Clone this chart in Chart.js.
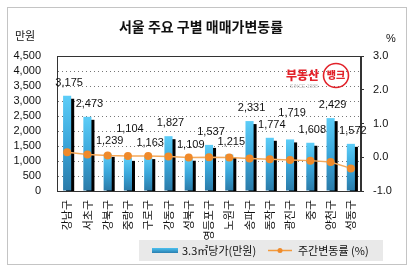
<!DOCTYPE html>
<html>
<head>
<meta charset="utf-8">
<script src="https://cdn.jsdelivr.net/npm/chart.js@4/dist/chart.umd.min.js"></script>
<style>
  html, body { margin: 0; padding: 0; background: #fff; }
  #wrap { width: 416px; height: 274px; }
</style>
</head>
<body>
<div id="wrap"><canvas id="chart" width="416" height="274"></canvas></div>
<script>
// 서울 주요 구별 매매가변동률 — bars (3.3㎡당가) + weekly change line

const districts = ['강남구', '서초구', '강북구', '중랑구', '구로구', '강동구', '성북구', '영등포구',
                   '노원구', '송파구', '동작구', '광진구', '중구', '양천구', '성동구'];
const prices = [3175, 2473, 1239, 1104, 1163, 1827, 1109, 1537, 1215, 2331, 1774, 1719, 1608, 2429, 1572];
const weeklyChange = [0.15, 0.08, 0.05, 0.04, 0.04, 0.02, -0.01, 0.0, -0.01, -0.04, -0.06, -0.08, -0.10, -0.14, -0.33];

const priceTicks = { min: 0, max: 4500, step: 500 };
const changeTicks = { min: -1, max: 3, step: 1 };

const TITLE = '서울 주요 구별 매매가변동률';
const KR = "'Noto Sans CJK KR', sans-serif";
const NUM = "'Liberation Sans', 'Noto Sans CJK KR', sans-serif";

Chart.defaults.font.family = NUM;
Chart.defaults.font.size = 11;
Chart.defaults.color = '#111';

function barGradient(c) {
  const chart = c.chart;
  if (!chart.chartArea || c.type !== 'data') return '#3aa8dc';
  const y = chart.scales.y;
  const top = y.getPixelForValue(prices[c.dataIndex]);
  const bottom = y.getPixelForValue(0);
  const g = chart.ctx.createLinearGradient(0, top, 0, bottom);
  g.addColorStop(0, '#5ccdf8');
  g.addColorStop(0.5, '#3aa6da');
  g.addColorStop(1, '#2a7aa8');
  return g;
}

// black drop shadow behind the bars
const barShadow = {
  id: 'barShadow',
  beforeDatasetDraw(chart, args) {
    if (args.index !== 0) return;
    const ctx = chart.ctx;
    ctx.save();
    ctx.shadowColor = '#000';
    ctx.shadowOffsetX = 3;
    ctx.shadowOffsetY = 3;
    ctx.shadowBlur = 0;
  },
  afterDatasetDraw(chart, args) {
    if (args.index !== 0) return;
    chart.ctx.restore();
  },
};

// frame, title, units, value labels, logo and legend
const decorations = {
  id: 'decorations',
  beforeDraw(chart) {
    const ctx = chart.ctx;
    ctx.save();
    ctx.fillStyle = '#fff';
    ctx.fillRect(0, 0, chart.width, chart.height);
    ctx.strokeStyle = '#c4c4c4';
    ctx.lineWidth = 1;
    ctx.strokeRect(7.5, 7.5, 399, 257);
    ctx.restore();
  },
  afterDatasetsDraw(chart) {
    const ctx = chart.ctx;
    const a = chart.chartArea;
    ctx.save();
    // plot border
    ctx.strokeStyle = '#333';
    ctx.lineWidth = 1;
    ctx.strokeRect(Math.round(a.left) + 0.5, Math.round(a.top) + 0.5,
                   Math.round(a.right - a.left) - 1, Math.round(a.bottom - a.top));

    // value labels above bars, nudged up when they collide with the previous one
    const meta = chart.getDatasetMeta(0);
    ctx.font = '11px ' + NUM;
    ctx.fillStyle = '#111';
    ctx.textAlign = 'center';
    ctx.textBaseline = 'middle';
    let prevY = null;
    meta.data.forEach((bar, i) => {
      let y = bar.y - 13;
      if (prevY !== null && Math.abs(y - prevY) < 8) y = prevY - 12;
      ctx.fillText(prices[i].toLocaleString('en-US'), bar.x + 2, y);
      prevY = y;
    });
    ctx.restore();
  },
  afterDraw(chart) {
    const ctx = chart.ctx;
    ctx.save();
    ctx.fillStyle = '#111';
    ctx.textBaseline = 'middle';

    ctx.font = 'bold 14px ' + KR;
    ctx.textAlign = 'center';
    ctx.fillText(TITLE, 201, 27);

    ctx.font = '11px ' + KR;
    ctx.textAlign = 'left';
    ctx.fillText('만원', 15, 36);
    ctx.font = '11px ' + NUM;
    ctx.fillText('%', 386, 39);

    // 부동산뱅크 logo
    ctx.fillStyle = '#e2222a';
    ctx.font = '900 12px ' + KR;
    ctx.fillText('부동산', 286, 75);
    ctx.strokeStyle = '#e2222a';
    ctx.lineWidth = 1.6;
    ctx.beginPath();
    ctx.ellipse(336, 75.5, 12.5, 12, 0, 0, Math.PI * 2);
    ctx.stroke();
    ctx.font = '900 10px ' + KR;
    ctx.textAlign = 'center';
    ctx.fillText('뱅크', 336, 75);
    ctx.fillStyle = '#c0c0c0';
    ctx.font = '5px ' + NUM;
    ctx.fillText('SINCE 1988', 304, 87);

    // legend
    ctx.fillStyle = '#e9e9e9';
    ctx.fillRect(139, 240, 244, 21);
    const sw = ctx.createLinearGradient(0, 248, 0, 253);
    sw.addColorStop(0, '#4cc0ef');
    sw.addColorStop(1, '#2a7fb0');
    ctx.fillStyle = sw;
    ctx.fillRect(152, 248, 26, 5);
    ctx.fillStyle = '#111';
    ctx.textAlign = 'left';
    ctx.font = '11px ' + KR;
    ctx.fillText(chart.data.datasets[0].label, 182, 250.5);
    ctx.strokeStyle = '#f39a3c';
    ctx.lineWidth = 1.5;
    ctx.beginPath();
    ctx.moveTo(268, 250.5);
    ctx.lineTo(292, 250.5);
    ctx.stroke();
    ctx.fillStyle = '#f08a2a';
    ctx.beginPath();
    ctx.arc(280, 250.5, 2.5, 0, Math.PI * 2);
    ctx.fill();
    ctx.fillStyle = '#111';
    ctx.fillText(chart.data.datasets[1].label, 298, 250.5);
    ctx.restore();
  },
};

new Chart(document.getElementById('chart'), {
  data: {
    labels: districts,
    datasets: [
      {
        type: 'bar',
        label: '3.3㎡당가(만원)',
        data: prices,
        yAxisID: 'y',
        backgroundColor: barGradient,
        borderWidth: 0,
        barPercentage: 0.4,
        categoryPercentage: 1.0,
        order: 1,
      },
      {
        type: 'line',
        label: '주간변동률 (%)',
        data: weeklyChange,
        yAxisID: 'y1',
        borderColor: '#f5a95a',
        borderWidth: 1.5,
        pointRadius: 4,
        pointBackgroundColor: '#f08a2a',
        pointBorderColor: '#f08a2a',
        pointBorderWidth: 0,
        tension: 0,
        order: 0,
      },
    ],
  },
  options: {
    responsive: false,
    animation: false,
    layout: { padding: { top: 56, left: 0, right: 0, bottom: 0 } },
    plugins: {
      legend: { display: false },
      title: { display: false },
      tooltip: { enabled: false },
    },
    scales: {
      x: {
        afterFit: (s) => { s.height = 83; },
        grid: { display: false, drawTicks: false },
        border: { display: true, color: '#333' },
        ticks: {
          minRotation: 90,
          maxRotation: 90,
          padding: 9,
          autoSkip: false,
          font: { family: KR, size: 11 },
          color: '#111',
        },
      },
      y: {
        position: 'left',
        min: priceTicks.min,
        max: priceTicks.max,
        afterFit: (s) => { s.width = 57; },
        grid: { color: '#777', drawTicks: false, lineWidth: 1 },
        border: { display: true, color: '#333', dash: [1, 3] },
        ticks: {
          stepSize: priceTicks.step,
          autoSkip: false,
          padding: 16,
          callback: (v) => v.toLocaleString('en-US'),
        },
      },
      y1: {
        position: 'right',
        min: changeTicks.min,
        max: changeTicks.max,
        afterFit: (s) => { s.width = 55; },
        grid: { drawOnChartArea: false, drawTicks: true, tickLength: 3, color: '#333' },
        border: { display: true, color: '#333' },
        ticks: {
          stepSize: changeTicks.step,
          autoSkip: false,
          padding: 9,
          callback: (v) => v.toFixed(1),
        },
      },
    },
  },
  plugins: [barShadow, decorations],
});
</script>
</body>
</html>
